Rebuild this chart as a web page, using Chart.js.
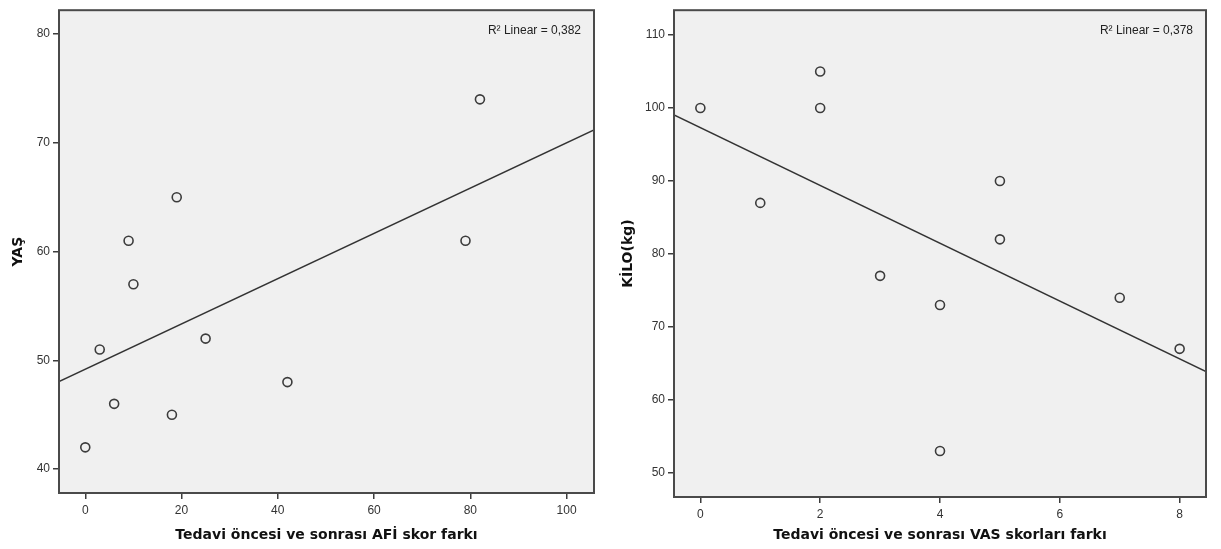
<!DOCTYPE html>
<html>
<head>
<meta charset="utf-8">
<script src="https://cdn.jsdelivr.net/npm/chart.js@4.4.1/dist/chart.umd.min.js"></script>
<style>
  body { margin: 0; background: #fff; width: 1221px; height: 549px; overflow: hidden; position: relative; }
  canvas { position: absolute; top: 0; }
</style>
</head>
<body>
<canvas id="afiChart" width="610" height="549" style="left:0"></canvas>
<canvas id="vasChart" width="611" height="549" style="left:610px"></canvas>
<script>
// left plot: AFI score difference vs age
const afiDiff = [0, 3, 6, 9, 10, 18, 19, 25, 42, 79, 82];
const age = [42, 51, 46, 61, 57, 45, 65, 52, 48, 61, 74];
const afiTicks = [0, 20, 40, 60, 80, 100];
const ageTicks = [40, 50, 60, 70, 80];

// right plot: VAS score difference vs weight
const vasDiff = [0, 1, 2, 2, 3, 4, 4, 5, 5, 7, 8];
const weight = [100, 87, 105, 100, 77, 73, 53, 90, 82, 74, 67];
const vasTicks = [0, 2, 4, 6, 8];
const weightTicks = [50, 60, 70, 80, 90, 100, 110];

const tickFont = { family: "'Liberation Sans Narrow', 'Liberation Sans', Arial, sans-serif", size: 12 };
const titleFont = { family: "'DejaVu Sans', Verdana, sans-serif", size: 14, weight: 'bold' };
const ink = "#3c3c3c";

function linearFit(xs, ys) {
    const n = xs.length;
    const mx = xs.reduce((a, b) => a + b, 0) / n;
    const my = ys.reduce((a, b) => a + b, 0) / n;
    let sxy = 0, sxx = 0, syy = 0;
    xs.forEach((x, i) => {
        sxy += (x - mx) * (ys[i] - my);
        sxx += (x - mx) ** 2;
        syy += (ys[i] - my) ** 2;
    });
    const slope = sxy / sxx;
    return { slope, intercept: my - slope * mx, r2: sxy * sxy / (sxx * syy) };
}

// grey plot box with dark frame and the R² note, like SPSS
const plotFrame = {
    id: 'plotFrame',
    beforeDraw(chart) {
        const { ctx, chartArea: a } = chart;
        ctx.save();
        ctx.fillStyle = "#f0f0f0";
        ctx.fillRect(a.left, a.top, a.right - a.left, a.bottom - a.top);
        ctx.restore();
    },
    afterDraw(chart, args, opts) {
        const { ctx, chartArea: a } = chart;
        ctx.save();
        ctx.strokeStyle = "#4a4a4a";
        ctx.lineWidth = 2;
        ctx.strokeRect(a.left, a.top, a.right - a.left, a.bottom - a.top);
        ctx.fillStyle = "#222";
        ctx.font = "12px 'Liberation Sans', Arial, sans-serif";
        ctx.textAlign = "right";
        ctx.textBaseline = "middle";
        ctx.fillText("R\u00B2 Linear = " + opts.r2.toFixed(3).replace(".", ","), a.right - 13, a.top + 20);
        ctx.restore();
    }
};

function makeChart(id, xs, ys, cfg) {
    const fit = linearFit(xs, ys);
    const points = xs.map((x, i) => ({ x: x, y: ys[i] }));
    const fitLine = [cfg.xMin, cfg.xMax].map(x => ({ x: x, y: fit.intercept + fit.slope * x }));

    return new Chart(document.getElementById(id), {
        type: 'scatter',
        data: {
            datasets: [{
                data: points,
                pointStyle: 'circle',
                pointRadius: 4.5,
                pointBorderWidth: 1.6,
                borderColor: ink,
                backgroundColor: 'rgba(0,0,0,0)'
            }, {
                type: 'line',
                data: fitLine,
                borderColor: "#333",
                borderWidth: 1.4,
                pointRadius: 0,
                fill: false
            }]
        },
        options: {
            responsive: false,
            animation: false,
            layout: { padding: { top: 7, right: cfg.rightPad, left: 0, bottom: 0 } },
            plugins: {
                legend: { display: false },
                tooltip: { enabled: false },
                plotFrame: { r2: fit.r2 }
            },
            scales: {
                x: {
                    type: 'linear',
                    min: cfg.xMin,
                    max: cfg.xMax,
                    afterBuildTicks: s => { s.ticks = cfg.xTicks.map(v => ({ value: v })); },
                    afterFit: s => { s.height = cfg.xAxisHeight; },
                    ticks: { font: tickFont, color: "#333", padding: 4 },
                    grid: { drawOnChartArea: false, drawTicks: true, tickLength: 6, color: ink, lineWidth: 1.5 },
                    border: { display: false },
                    title: { display: true, text: cfg.xTitle, font: titleFont, color: "#111", padding: { top: 0, bottom: 5 } }
                },
                y: {
                    type: 'linear',
                    min: cfg.yMin,
                    max: cfg.yMax,
                    afterBuildTicks: s => { s.ticks = cfg.yTicks.map(v => ({ value: v })); },
                    afterFit: s => { s.width = cfg.yAxisWidth; },
                    ticks: { font: tickFont, color: "#333", padding: 3 },
                    grid: { drawOnChartArea: false, drawTicks: true, tickLength: 6, color: ink, lineWidth: 1.5 },
                    border: { display: false },
                    title: { display: true, text: cfg.yTitle, font: titleFont, color: "#111", padding: { top: 10, bottom: 0 } }
                }
            }
        },
        plugins: [plotFrame]
    });
}

makeChart("afiChart", afiDiff, age, {
    xMin: -5.46, xMax: 105.7, yMin: 37.8, yMax: 82.2,
    xTicks: afiTicks, yTicks: ageTicks,
    xTitle: "Tedavi öncesi ve sonrası AFİ skor farkı", yTitle: "YAŞ",
    yAxisWidth: 59, xAxisHeight: 56, rightPad: 16
});

makeChart("vasChart", vasDiff, weight, {
    xMin: -0.44, xMax: 8.44, yMin: 46.7, yMax: 113.4,
    xTicks: vasTicks, yTicks: weightTicks,
    xTitle: "Tedavi öncesi ve sonrası VAS skorları farkı", yTitle: "KİLO(kg)",
    yAxisWidth: 64, xAxisHeight: 52, rightPad: 15
});
</script>
</body>
</html>
